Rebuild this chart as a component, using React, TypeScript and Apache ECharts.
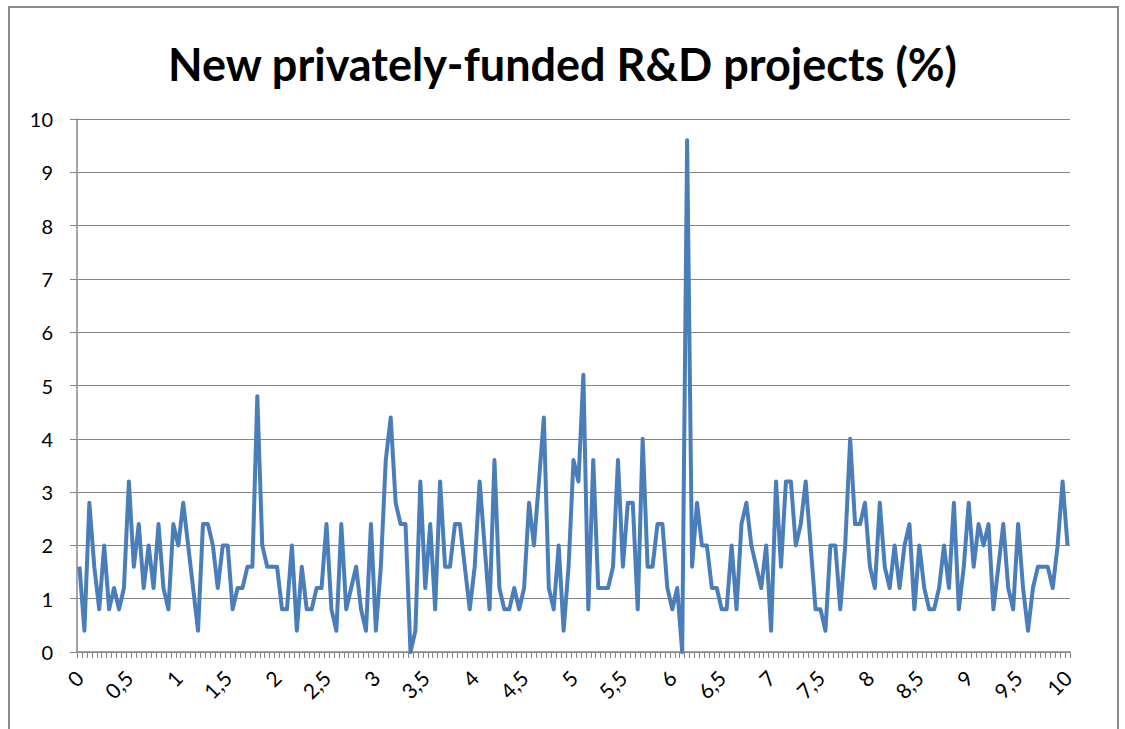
import React, { useEffect, useRef } from "react";
import * as echarts from "echarts";

const TITLE = "New privately-funded R&D projects (%)";

// categories 0, 0.05, ... 10 (labels shown with decimal comma)
const categories: string[] = Array.from({ length: 201 }, (_, i) =>
  String(Math.round(i * 5) / 100).replace(".", ",")
);

const values: number[] = [
  1.6, 0.4, 2.8, 1.6, 0.8, 2.0, 0.8, 1.2, 0.8, 1.2,
  3.2, 1.6, 2.4, 1.2, 2.0, 1.2, 2.4, 1.2, 0.8, 2.4,
  2.0, 2.8, 2.0, 1.2, 0.4, 2.4, 2.4, 2.0, 1.2, 2.0,
  2.0, 0.8, 1.2, 1.2, 1.6, 1.6, 4.8, 2.0, 1.6, 1.6,
  1.6, 0.8, 0.8, 2.0, 0.4, 1.6, 0.8, 0.8, 1.2, 1.2,
  2.4, 0.8, 0.4, 2.4, 0.8, 1.2, 1.6, 0.8, 0.4, 2.4,
  0.4, 1.6, 3.6, 4.4, 2.8, 2.4, 2.4, 0, 0.4, 3.2,
  1.2, 2.4, 0.8, 3.2, 1.6, 1.6, 2.4, 2.4, 1.6, 0.8,
  1.6, 3.2, 2.0, 0.8, 3.6, 1.2, 0.8, 0.8, 1.2, 0.8,
  1.2, 2.8, 2.0, 3.2, 4.4, 1.2, 0.8, 2.0, 0.4, 1.6,
  3.6, 3.2, 5.2, 0.8, 3.6, 1.2, 1.2, 1.2, 1.6, 3.6,
  1.6, 2.8, 2.8, 0.8, 4.0, 1.6, 1.6, 2.4, 2.4, 1.2,
  0.8, 1.2, 0, 9.6, 1.6, 2.8, 2.0, 2.0, 1.2, 1.2,
  0.8, 0.8, 2.0, 0.8, 2.4, 2.8, 2.0, 1.6, 1.2, 2.0,
  0.4, 3.2, 1.6, 3.2, 3.2, 2.0, 2.4, 3.2, 2.0, 0.8,
  0.8, 0.4, 2.0, 2.0, 0.8, 2.0, 4.0, 2.4, 2.4, 2.8,
  1.6, 1.2, 2.8, 1.6, 1.2, 2.0, 1.2, 2.0, 2.4, 0.8,
  2.0, 1.2, 0.8, 0.8, 1.2, 2.0, 1.2, 2.8, 0.8, 1.6,
  2.8, 1.6, 2.4, 2.0, 2.4, 0.8, 1.6, 2.4, 1.2, 0.8,
  2.4, 1.2, 0.4, 1.2, 1.6, 1.6, 1.6, 1.2, 2.0, 3.2,
  2.0,
];

const FONT = "Lato, 'Liberation Sans', sans-serif";

export default function App() {
  const ref = useRef<HTMLDivElement>(null);
  useEffect(() => {
    if (!ref.current) return;
    const chart = echarts.init(ref.current, undefined, { renderer: "svg" });
    chart.setOption({
      animation: false,
      backgroundColor: "#ffffff",
      title: {
        text: TITLE,
        left: "center",
        top: 36,
        textStyle: {
          fontFamily: FONT,
          fontWeight: "bold",
          fontSize: 45,
          color: "#000000",
        },
      },
      graphic: [
        {
          type: "rect",
          shape: { x: 9, y: 7, width: 1109, height: 740 },
          style: { fill: "none", stroke: "#8a8a8a", lineWidth: 2 },
          silent: true,
        },
      ],
      grid: { left: 77, right: 55, top: 119, bottom: 77, containLabel: false },
      xAxis: {
        type: "category",
        data: categories,
        boundaryGap: true,
        axisLine: { lineStyle: { color: "#868686", width: 1.5 } },
        axisTick: {
          show: true,
          interval: 0,
          length: 6,
          lineStyle: { color: "#868686", width: 1 },
        },
        axisLabel: {
          interval: 9,
          rotate: 45,
          margin: 22,
          fontFamily: FONT,
          fontSize: 21,
          color: "#000000",
        },
        splitLine: { show: false },
      },
      yAxis: {
        type: "value",
        min: 0,
        max: 10,
        interval: 1,
        axisLine: { show: true, lineStyle: { color: "#868686", width: 1.5 } },
        axisTick: { show: true, length: 7, lineStyle: { color: "#868686" } },
        axisLabel: {
          margin: 24,
          fontFamily: FONT,
          fontSize: 20,
          color: "#000000",
        },
        splitLine: { show: true, lineStyle: { color: "#868686", width: 1 } },
      },
      series: [
        {
          type: "line",
          data: values,
          symbol: "none",
          lineStyle: { color: "#4a7ebb", width: 4, join: "round" },
          itemStyle: { color: "#4a7ebb" },
        },
      ],
    });
    return () => chart.dispose();
  }, []);
  return (
    <div
      ref={ref}
      style={{ position: "fixed", left: 0, top: 0, width: 1125, height: 729 }}
    />
  );
}
